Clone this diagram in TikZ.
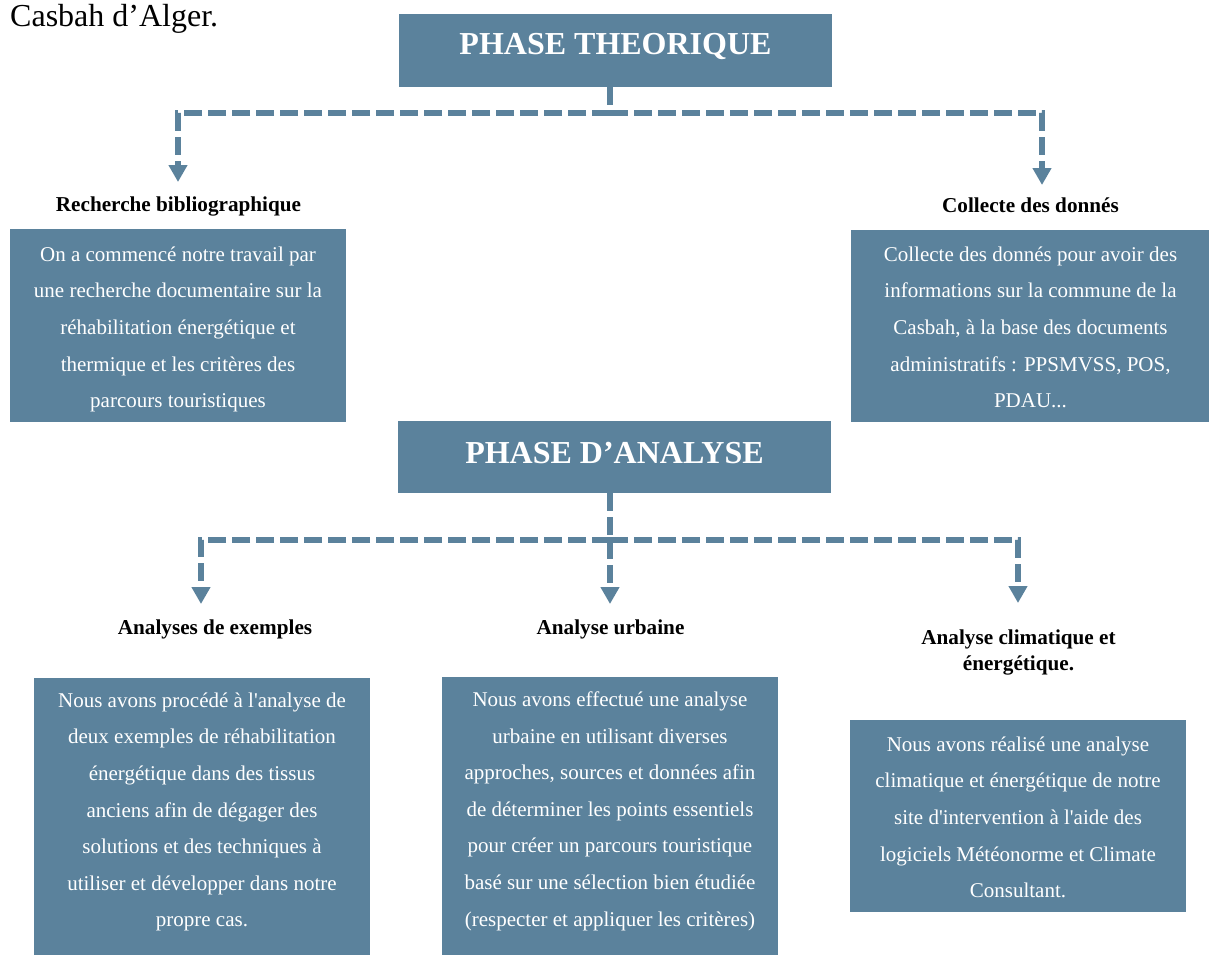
\documentclass[tikz,border=0pt]{standalone}
\usepackage{fontspec}
\setmainfont{Liberation Serif}
\usetikzlibrary{arrows.meta}
\definecolor{steel}{RGB}{91,130,156}
\begin{document}
\begin{tikzpicture}[x=1pt,y=-1pt,
  boxfill/.style={fill=steel, draw=none, inner sep=0pt, outer sep=0pt},
  titlebox/.style={boxfill, minimum width=433pt, minimum height=73pt, text=white,
    font=\fontsize{32}{38}\selectfont\bfseries},
  bodytext/.style={text=white, align=center, inner sep=0pt, anchor=north,
    font=\fontsize{21}{36.6}\selectfont},
  labeltext/.style={text=black, inner sep=0pt, anchor=base,
    font=\fontsize{21.2}{26}\selectfont\bfseries},
  connline/.style={draw=steel, line width=6pt, dash pattern=on 18pt off 6pt},
  conn/.style={connline, -{Triangle[width=18pt,length=17pt]}}
]
\useasboundingbox (0,0) rectangle (1209,954);

% top-left text
\node[anchor=base west, inner sep=0pt, font=\fontsize{32}{38}\selectfont] (cas) at (10,26) {Casbah d’Alger.};

% titles
\node[titlebox, text height=25pt, text depth=18pt] (t1) at (615.5,50.5) {PHASE THEORIQUE};
\node[titlebox, minimum height=72pt, text height=26pt, text depth=14pt] (t2) at (614.5,457) {PHASE D’ANALYSE};

% boxes
\node[boxfill, minimum width=336pt, minimum height=193pt] (b1) at (178,325.5) {};
\node[boxfill, minimum width=359pt, minimum height=192pt] (b2) at (1030.5,326) {};
\node[boxfill, minimum width=336pt, minimum height=284pt] (bA) at (202,820) {};
\node[boxfill, minimum width=336pt, minimum height=285pt] (bB) at (610,819.5) {};
\node[boxfill, minimum width=336pt, minimum height=192pt] (bC) at (1018,816) {};

% box texts
\node[bodytext] (x1) at (178,246.5) {On a commencé notre travail par\\une recherche documentaire sur la\\réhabilitation énergétique et\\thermique et les critères des\\parcours touristiques};
\node[bodytext] (x2) at (1030.5,246.5) {Collecte des donnés pour avoir des\\informations sur la commune de la\\Casbah, à la base des documents\\administratifs : PPSMVSS, POS,\\PDAU...};
\node[bodytext] (xA) at (202,692.5) {Nous avons procédé à l\textquotesingle analyse de\\deux exemples de réhabilitation\\énergétique dans des tissus\\anciens afin de dégager des\\solutions et des techniques à\\utiliser et développer dans notre\\propre cas.};
\node[bodytext] (xB) at (610,691.5) {Nous avons effectué une analyse\\urbaine en utilisant diverses\\approches, sources et données afin\\de déterminer les points essentiels\\pour créer un parcours touristique\\basé sur une sélection bien étudiée\\(respecter et appliquer les critères)};
\node[bodytext] (xC) at (1018,736.5) {Nous avons réalisé une analyse\\climatique et énergétique de notre\\site d\textquotesingle intervention à l\textquotesingle aide des\\logiciels Météonorme et Climate\\Consultant.};

% labels
\node[labeltext] (l1) at (178.5,211) {Recherche bibliographique};
\node[labeltext] (l2) at (1030.5,212) {Collecte des donnés};
\node[labeltext] (l3) at (215,634) {Analyses de exemples};
\node[labeltext] (l4) at (610.5,634) {Analyse urbaine};
\node[labeltext, anchor=north, align=center] (l5) at (1018.5,629.5) {Analyse climatique et\\énergétique.};

% connectors (top)
\coordinate (j1) at (610,113);
\coordinate (a1) at (178,182);
\coordinate (a2) at (1042,185);
\draw[connline] (t1.south -| j1) -- (j1);
\draw[conn] (j1) -| (a1);
\draw[conn] (j1) -| (a2);

% connectors (bottom)
\coordinate (j2) at (610,540);
\coordinate (a3) at (201,604);
\coordinate (a4) at (610,604);
\coordinate (a5) at (1018,603);
\draw[conn] (t2.south -| j2) -- (a4);
\draw[conn] (j2) -| (a3);
\draw[conn] (j2) -| (a5);
\end{tikzpicture}
\end{document}
